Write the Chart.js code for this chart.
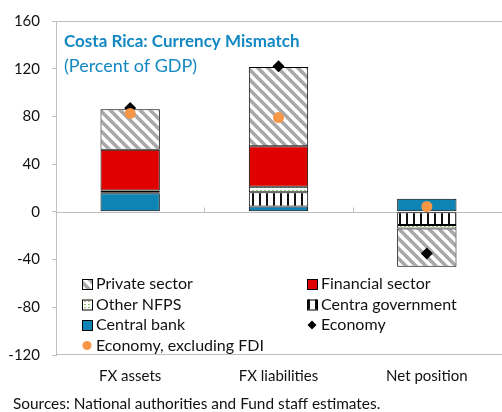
<!DOCTYPE html>
<html>
<head>
<meta charset="utf-8">
<script src="https://cdn.jsdelivr.net/npm/chart.js@4"></script>
<style>
  html, body { margin: 0; padding: 0; background: #fff; overflow: hidden; }
  #wrap { width: 502px; height: 412px; position: relative; }
  canvas { display: block; }
</style>
</head>
<body>
<div id="wrap"><canvas id="chart"></canvas></div>
<script>
    const categories = ["FX assets", "FX liabilities", "Net position"];
    const centralBank = [15.5, 4.5, 11];
    const centraGov = [1, 12, -11];
    const otherNFPS = [1.5, 4.5, -3];
    const financial = [34, 34, 0];
    const privateSector = [34, 66.5, -32];
    const economy = [87, 122, -35];
    const economyExFDI = [82.5, 79, 4.5];
    const yTicks = { min: -120, max: 160, step: 40 };

    const FONT = "Lato, 'Noto Sans', sans-serif";
    const BLUE = "#1388c2";

    const makePattern = (w, h, paint) => {
      const c = document.createElement("canvas");
      c.width = w; c.height = h;
      const g = c.getContext("2d");
      g.fillStyle = "#fff";
      g.fillRect(0, 0, w, h);
      paint(g);
      return c.getContext("2d").createPattern(c, "repeat");
    };

    const hatch = makePattern(10, 10, g => {
      g.strokeStyle = "#a8a8a8";
      g.lineWidth = 3.6;
      for (let k = -1; k <= 1; k++) {
        g.beginPath();
        g.moveTo(k * 10 - 1, -1);
        g.lineTo(k * 10 + 11, 11);
        g.stroke();
      }
    });
    const dots = makePattern(4, 3, g => {
      g.fillStyle = "#8fc06a";
      g.fillRect(0, 1, 2, 1);
    });
    const vstripes = makePattern(7, 4, g => {
      g.fillStyle = "#111";
      g.fillRect(0, 0, 2, 4);
    });

    const bar = (label, data, fill) => ({
      type: "bar", label, data, backgroundColor: fill,
      borderColor: "#000", borderWidth: 1, borderSkipped: false,
      stack: "s", order: 2, barPercentage: 0.4, categoryPercentage: 1
    });

    const datasets = [
      { type: "line", label: "Economy, excluding FDI", data: economyExFDI, showLine: false,
        pointStyle: "circle", pointRadius: 5.5, pointBackgroundColor: "#f79646",
        pointBorderWidth: 0, stack: "e2", order: 0 },
      { type: "line", label: "Economy", data: economy, showLine: false,
        pointStyle: "rectRot", pointRadius: 6, pointBackgroundColor: "#000",
        pointBorderWidth: 0, stack: "e1", order: 1 },
      bar("Central bank", centralBank, "#0d84b4"),
      bar("Centra government", centraGov, vstripes),
      bar("Other NFPS", otherNFPS, dots),
      bar("Financial sector", financial, "#e00000"),
      bar("Private sector", privateSector, hatch)
    ];

    // title, frame, zero-crossing ticks, legend and source note
    const extras = {
      id: "extras",
      beforeDatasetsDraw(chart) {
        const { ctx, chartArea: a, scales: { x, y } } = chart;
        ctx.save();
        ctx.strokeStyle = "#bfbfbf";
        ctx.lineWidth = 1;
        const y0 = Math.round(y.getPixelForValue(0)) + 0.5;
        ctx.beginPath();
        ctx.moveTo(a.left, a.top + 0.5); ctx.lineTo(a.right + 1, a.top + 0.5);
        ctx.moveTo(a.left, a.bottom - 0.5); ctx.lineTo(a.right + 1, a.bottom - 0.5);
        ctx.moveTo(a.left, y0); ctx.lineTo(a.right + 1, y0);
        for (let i = 0; i < categories.length - 1; i++) {
          const px = Math.round(x.getPixelForValue(i + 0.5)) + 0.5;
          ctx.moveTo(px, y0); ctx.lineTo(px, y0 - 5);
        }
        ctx.stroke();
        ctx.restore();
      },
      afterDraw(chart) {
        const { ctx, chartArea: a } = chart;
        ctx.save();
        ctx.textBaseline = "middle";
        ctx.fillStyle = BLUE;
        ctx.font = "bold 17px " + FONT;
        ctx.fillText("Costa Rica: Currency Mismatch", a.left + 8, a.top + 21);
        ctx.font = "18px " + FONT;
        ctx.fillText("(Percent of GDP)", a.left + 8, a.top + 45);

        const items = [
          ["Private sector", "box", hatch], ["Financial sector", "box", "#e00000"],
          ["Other NFPS", "box", dots], ["Centra government", "box", vstripes],
          ["Central bank", "box", "#0d84b4"], ["Economy", "diamond", "#000"],
          ["Economy, excluding FDI", "circle", "#f79646"]
        ];
        ctx.font = "16px " + FONT;
        items.forEach((it, i) => {
          const col = i % 2, row = Math.floor(i / 2);
          const mx = a.left + (col ? 251 : 26);
          const my = a.top + 263 + row * 20.5;
          if (it[1] === "box") {
            ctx.fillStyle = it[2];
            ctx.fillRect(mx, my - 5, 10, 10);
            ctx.strokeStyle = "#000";
            ctx.lineWidth = 1;
            ctx.strokeRect(mx + 0.5, my - 4.5, 10, 10);
          } else if (it[1] === "diamond") {
            ctx.fillStyle = it[2];
            ctx.beginPath();
            ctx.moveTo(mx + 5, my - 4.5); ctx.lineTo(mx + 9.5, my);
            ctx.lineTo(mx + 5, my + 4.5); ctx.lineTo(mx + 0.5, my);
            ctx.closePath(); ctx.fill();
          } else {
            ctx.fillStyle = it[2];
            ctx.beginPath();
            ctx.arc(mx + 5, my, 4.5, 0, Math.PI * 2);
            ctx.fill();
          }
          ctx.fillStyle = "#111";
          ctx.fillText(it[0], mx + 14, my);
        });

        ctx.font = "15.4px " + FONT;
        ctx.fillStyle = "#111";
        ctx.fillText("Sources: National authorities and Fund staff estimates.", 13, 404);
        ctx.restore();
      }
    };

    new Chart(document.getElementById("chart"), {
      data: { labels: categories, datasets },
      plugins: [extras],
      options: {
        responsive: true,
        maintainAspectRatio: false,
        animation: false,
        layout: { autoPadding: false, padding: { top: 19, right: 1, left: 0, bottom: 0 } },
        plugins: { legend: { display: false }, tooltip: { enabled: false } },
        scales: {
          x: {
            stacked: true,
            grid: { display: false, drawTicks: false },
            border: { display: false },
            ticks: { color: "#111", font: { family: FONT, size: 15 }, padding: 12 },
            afterFit: s => { s.height = 57; s.paddingLeft = 0; s.paddingRight = 0; }
          },
          y: {
            stacked: true,
            min: yTicks.min, max: yTicks.max,
            ticks: { stepSize: yTicks.step, color: "#111", font: { family: FONT, size: 15 }, padding: 12 },
            grid: { drawOnChartArea: false, tickLength: 4, color: "#bfbfbf" },
            border: { display: true, color: "#bfbfbf" },
            afterFit: s => { s.width = 56; }
          }
        }
      }
    });
</script>
</body>
</html>
